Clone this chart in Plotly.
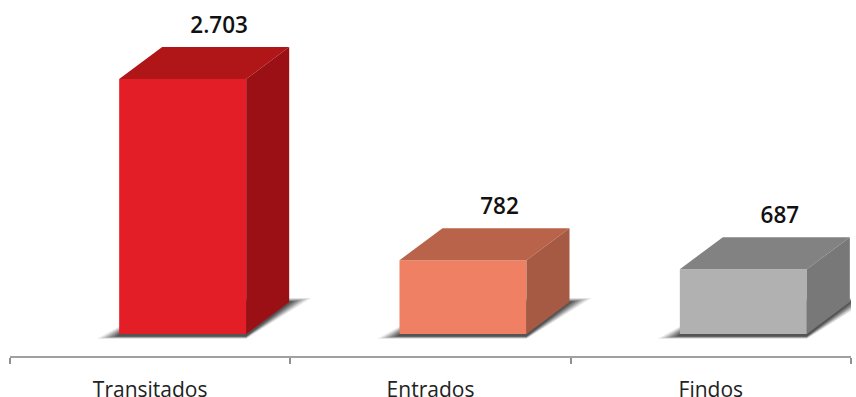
import plotly.graph_objects as go

categories = ["Transitados", "Entrados", "Findos"]
values = [2703, 782, 687]
value_labels = ["2.703", "782", "687"]
front_colors = ["#e31e26", "#ef8063", "#b1b1b1"]
top_colors = ["#b01518", "#b8634a", "#828282"]
side_colors = ["#9a1014", "#a65a43", "#787878"]

W, H = 856, 397
ML, MR, MT, MB = 10, 5, 0, 41
X_RANGE = [-0.5, 2.5]
Y_RANGE = [-233, 3540]
ux = (X_RANGE[1] - X_RANGE[0]) / (W - ML - MR)
uy = (Y_RANGE[1] - Y_RANGE[0]) / (H - MT - MB)
bar_w = 127 * ux
bar_off = -31 * ux
dx, dy = 43 * ux, 32 * uy

fig = go.Figure()


def poly(xs, ys, color):
    fig.add_trace(go.Scatter(x=xs + xs[:1], y=ys + ys[:1], mode="lines", fill="toself",
                             fillcolor=color, line=dict(width=0),
                             hoverinfo="skip", showlegend=False))


for i, v in enumerate(values):
    l = i + bar_off
    r = l + bar_w
    # soft floor shadow, layered from wide and faint to narrow and dark
    for grow, alpha in [(22, .12), (18, .18), (14, .26), (10, .34), (6, .45), (3, .55)]:
        g, h = grow * ux, grow * 0.12 * uy
        xs = [l - g, r, r + dx + g, l + dx + g * .4]
        ys = [-h - 2 * uy, -h - 2 * uy, dy + h * 1.5, dy + h * 1.5]
        path = "M " + " L ".join(f"{a},{b}" for a, b in zip(xs, ys)) + " Z"
        fig.add_shape(type="path", path=path, xref="x", yref="y", layer="below",
                      fillcolor="#444444", opacity=alpha, line=dict(width=0))
    poly([l, l + dx, r + dx, r], [v, v + dy, v + dy, v], top_colors[i])
    poly([r, r + dx, r + dx, r], [0, dy, v + dy, v], side_colors[i])

fig.add_trace(go.Bar(x=list(range(3)), y=values, width=bar_w, offset=bar_off,
                     marker=dict(color=front_colors, line=dict(width=0)),
                     hoverinfo="skip", showlegend=False))

fig.add_trace(go.Scatter(x=[i + bar_off + 100 * ux for i in range(3)],
                         y=[v + dy + 20 * uy for v in values],
                         mode="text", text=value_labels, textposition="middle center",
                         textfont=dict(family="Open Sans", size=22.5, color="#111111", weight=600),
                         hoverinfo="skip", showlegend=False))

fig.update_layout(
    width=W, height=H, margin=dict(l=ML, r=MR, t=MT, b=MB, autoexpand=False),
    paper_bgcolor="white", plot_bgcolor="white", showlegend=False,
    xaxis=dict(range=X_RANGE, tickvals=[0, 1, 2], ticktext=categories, ticks="outside",
               ticklen=14, tickcolor="rgba(0,0,0,0)", showgrid=False, zeroline=False,
               automargin=False, showline=True, linecolor="#a0a0a0", linewidth=2,
               tickfont=dict(family="Open Sans", size=21, color="#222222"),
               minor=dict(tick0=0.5, dtick=1, ticks="outside", ticklen=6, tickwidth=2,
                          tickcolor="#909090", showgrid=False)),
    yaxis=dict(range=Y_RANGE, visible=False, showgrid=False, zeroline=False, automargin=False),
)

fig.write_html("out.html", config={"displayModeBar": False},
               post_script="document.body.style.margin='0';document.body.style.overflow='hidden';")
